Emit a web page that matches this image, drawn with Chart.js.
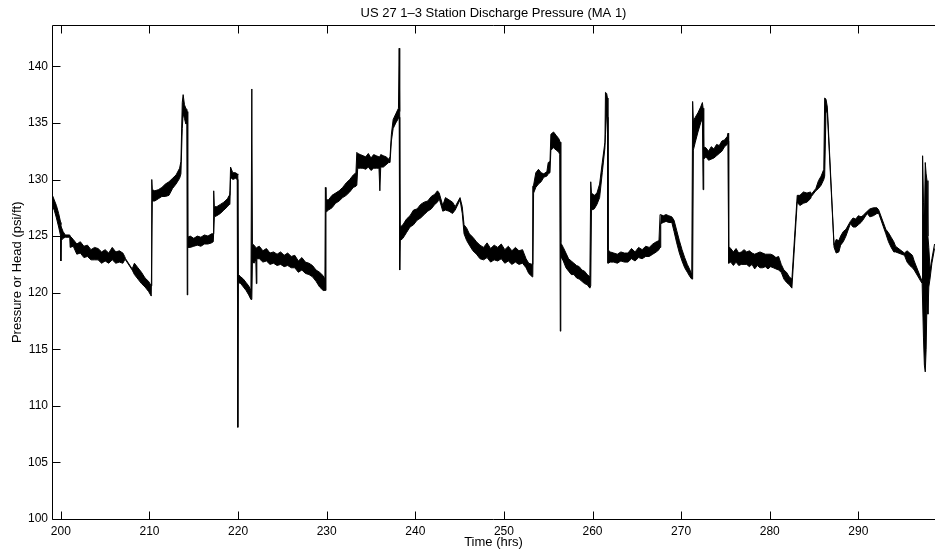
<!DOCTYPE html>
<html>
<head>
<meta charset="utf-8">
<script src="https://cdn.jsdelivr.net/npm/chart.js@4.4.0/dist/chart.umd.min.js"></script>
<style>
  html, body { margin: 0; padding: 0; background: #fff; }
</style>
</head>
<body>
<canvas id="myChart" width="935" height="550"></canvas>
<script>
const timeHrs = [
    199.0, 199.25, 199.5, 199.75, 199.98, 200.0, 200.05, 200.25, 200.5, 201.0,
    201.05, 201.4, 201.8, 202.2, 202.6, 203.0, 203.4, 203.8, 204.2, 204.6,
    205.0, 205.4, 205.8, 206.2, 206.6, 207.0, 207.2, 207.3, 208.05, 208.3,
    208.7, 209.1, 209.5, 209.9, 210.2, 210.26, 210.32, 210.6, 211.0, 211.4,
    211.8, 212.2, 212.6, 213.0, 213.4, 213.55, 213.7, 213.8, 213.95, 214.1,
    214.22, 214.26, 214.32, 214.6, 215.0, 215.4, 215.8, 216.2, 216.6, 217.0,
    217.2, 217.25, 217.32, 217.6, 218.0, 218.4, 218.8, 219.0, 219.08, 219.15,
    219.4, 219.7, 219.9, 219.97, 220.03, 220.3, 220.6, 220.9, 221.2, 221.45,
    221.55, 221.62, 221.8, 222.0, 222.06, 222.12, 222.4, 222.8, 223.2, 223.6,
    224.0, 224.4, 224.8, 225.2, 225.6, 226.0, 226.4, 226.8, 227.2, 227.6,
    228.0, 228.4, 228.8, 229.2, 229.6, 229.8, 229.85, 229.92, 230.2, 230.6,
    231.0, 231.4, 231.8, 232.2, 232.6, 233.0, 233.3, 233.4, 233.5, 233.8,
    234.1, 234.4, 234.7, 235.0, 235.3, 235.6, 235.9, 236.0, 236.1, 236.4,
    236.7, 237.0, 237.15, 237.3, 237.5, 237.8, 238.1, 238.18, 238.24, 238.3,
    238.6, 239.0, 239.4, 239.8, 240.2, 240.6, 241.0, 241.4, 241.8, 242.2,
    242.5, 242.7, 243.1, 243.4, 243.8, 244.2, 244.5, 245.05, 245.3, 245.5,
    245.8, 246.1, 246.5, 246.9, 247.3, 247.7, 248.1, 248.5, 248.9, 249.3,
    249.7, 250.1, 250.5, 250.9, 251.3, 251.7, 252.1, 252.5, 252.8, 253.2,
    253.26, 253.35, 253.6, 253.9, 254.2, 254.5, 254.85, 255.0, 255.2, 255.3,
    255.6, 255.9, 256.2, 256.3, 256.36, 256.42, 256.7, 257.0, 257.3, 257.6,
    257.9, 258.2, 258.5, 258.8, 259.1, 259.4, 259.7, 259.8, 259.88, 260.2,
    260.5, 260.8, 261.1, 261.4, 261.46, 261.6, 261.68, 261.74, 262.0, 262.4,
    262.8, 263.2, 263.6, 264.0, 264.4, 264.8, 265.2, 265.6, 266.0, 266.4,
    266.8, 267.2, 267.5, 267.62, 267.7, 268.0, 268.3, 268.6, 268.95, 269.2,
    269.5, 269.8, 270.1, 270.4, 270.7, 271.0, 271.2, 271.3, 271.38, 271.6,
    271.9, 272.2, 272.4, 272.48, 272.55, 272.8, 273.1, 273.4, 273.7, 274.0,
    274.3, 274.6, 274.9, 275.2, 275.3, 275.36, 275.6, 275.9, 276.2, 276.5,
    276.8, 277.1, 277.4, 277.7, 278.0, 278.3, 278.6, 278.9, 279.2, 279.5,
    279.8, 280.1, 280.4, 280.7, 281.0, 281.3, 281.6, 281.9, 282.2, 282.5,
    283.1, 283.4, 283.8, 284.2, 284.6, 284.7, 285.2, 285.5, 285.8, 286.1,
    286.2, 286.35, 286.5, 287.26, 287.5, 287.8, 288.0, 288.3, 288.6, 289.1,
    289.4, 289.7, 290.0, 290.3, 290.5, 291.0, 291.3, 291.7, 292.1, 292.3,
    293.1, 293.4, 293.7, 294.0, 294.2, 295.2, 295.5, 295.8, 296.1, 296.3,
    297.2, 297.25, 297.35, 297.45, 297.55, 297.65, 297.75, 297.85, 297.95, 298.1,
    298.3, 298.6
];

const upperPsi = [
    128.7, 128.2, 127.7, 127.0, 126.2, 126.0, 125.8, 125.4, 125.1, 125.1,
    125.0, 124.7, 124.3, 124.5, 124.1, 124.2, 123.8, 124.0, 123.9, 123.6,
    123.8, 123.5, 124.0, 123.6, 123.7, 123.5, 123.2, 123.0, 122.1, 122.6,
    122.2, 121.8, 121.3, 121.0, 120.6, 130.0, 129.1, 129.0, 129.1, 129.3,
    129.6, 129.8, 130.1, 130.4, 131.0, 131.6, 136.8, 137.5, 136.6, 136.3,
    136.2, 136.0, 124.9, 125.0, 124.8, 125.0, 124.9, 125.1, 125.0, 125.2,
    125.2, 129.0, 127.6, 127.6, 127.8, 128.0, 128.3, 128.6, 129.0, 131.1,
    130.6, 130.6, 130.5, 130.4, 121.6, 121.4, 121.2, 120.9, 120.6, 120.2,
    138.0, 124.3, 124.2, 124.0, 123.9, 124.0, 124.1, 123.7, 123.9, 123.5,
    123.6, 123.4, 123.6, 123.3, 123.5, 123.2, 123.3, 122.8, 123.1, 122.7,
    122.6, 122.4, 122.0, 121.8, 121.5, 121.2, 129.3, 128.2, 128.2, 128.6,
    128.8, 129.0, 129.3, 129.7, 130.0, 130.4, 130.6, 132.4, 132.3, 132.2,
    132.1, 132.0, 132.3, 131.9, 132.2, 132.1, 132.0, 132.0, 132.2, 132.1,
    132.0, 131.8, 132.0, 134.0, 135.3, 135.8, 136.3, 141.6, 136.0, 125.8,
    126.0, 126.5, 126.8, 127.3, 127.4, 127.8, 128.0, 128.1, 128.5, 128.7,
    129.0, 128.8, 127.7, 128.4, 128.2, 128.0, 127.6, 128.4, 127.6, 126.0,
    125.7, 125.2, 124.9, 124.5, 124.2, 124.0, 124.4, 123.9, 124.2, 124.0,
    124.3, 123.8, 124.1, 123.7, 124.0, 123.7, 123.8, 123.0, 122.6, 122.5,
    129.4, 129.5, 130.6, 130.9, 130.6, 130.5, 130.7, 131.5, 131.6, 134.0,
    134.2, 133.9, 133.6, 133.4, 133.3, 124.4, 124.0, 123.5, 123.0, 122.8,
    122.6, 122.4, 122.3, 122.0, 121.9, 121.6, 121.4, 129.8, 128.8, 128.6,
    128.8, 129.6, 131.5, 133.3, 137.7, 137.6, 137.2, 123.8, 123.6, 123.5,
    123.4, 123.6, 123.5, 123.5, 123.9, 123.6, 124.0, 123.8, 124.1, 124.0,
    124.3, 124.5, 124.6, 126.9, 126.9, 126.8, 126.9, 126.8, 126.7, 126.4,
    125.5, 124.6, 123.8, 123.1, 122.5, 122.0, 121.6, 136.9, 135.2, 135.5,
    135.9, 136.4, 136.8, 136.3, 132.9, 132.8, 132.5, 132.9, 132.7, 133.1,
    133.0, 133.4, 133.5, 133.8, 134.1, 124.1, 123.9, 123.6, 123.9, 123.5,
    123.6, 123.8, 123.6, 123.7, 123.5, 123.4, 123.5, 123.6, 123.5, 123.4,
    123.4, 123.4, 123.3, 123.1, 123.2, 122.5, 122.0, 121.8, 121.4, 121.2,
    128.6, 128.6, 128.9, 128.8, 128.9, 128.7, 129.2, 129.9, 130.3, 130.9,
    137.2, 137.1, 136.4, 124.2, 124.7, 124.6, 125.0, 125.4, 125.6, 126.3,
    126.6, 126.5, 126.8, 126.7, 126.8, 127.2, 127.4, 127.5, 127.5, 127.3,
    125.6, 125.3, 124.9, 124.5, 124.1, 123.5, 123.7, 123.5, 123.3, 122.8,
    121.0, 132.1, 128.0, 126.0, 131.5, 130.5, 129.9, 125.0, 124.0, 122.0,
    123.0, 124.3
];

const lowerPsi = [
    127.7, 127.3, 126.6, 125.8, 125.0, 122.8, 124.6, 124.8, 124.9, 124.9,
    124.0, 124.1, 123.4, 123.5, 123.1, 123.2, 122.9, 122.9, 122.9, 122.6,
    122.8, 122.6, 122.9, 122.6, 122.7, 122.6, 122.9, 122.9, 122.0, 121.6,
    121.2, 120.8, 120.5, 120.1, 119.7, 119.7, 128.1, 128.1, 128.3, 128.5,
    128.5, 128.6, 129.2, 129.6, 130.1, 130.5, 134.5, 135.8, 135.4, 134.9,
    135.0, 119.8, 124.0, 124.0, 124.1, 124.2, 124.1, 124.3, 124.3, 124.4,
    124.5, 124.5, 126.7, 126.8, 127.0, 127.3, 127.6, 127.8, 127.9, 130.2,
    130.0, 130.1, 130.0, 108.1, 120.9, 120.8, 120.5, 120.2, 119.8, 119.4,
    119.4, 122.8, 122.6, 122.9, 120.8, 123.0, 123.0, 122.7, 122.8, 122.5,
    122.6, 122.4, 122.5, 122.3, 122.4, 122.2, 122.2, 121.8, 122.0, 121.7,
    121.6, 121.4, 121.0, 120.5, 120.2, 120.2, 120.2, 127.1, 127.3, 127.5,
    127.9, 128.1, 128.4, 128.6, 128.9, 129.3, 129.4, 129.5, 131.0, 131.0,
    131.0, 130.9, 131.1, 130.8, 131.0, 131.0, 131.0, 129.0, 131.1, 131.1,
    131.3, 131.5, 131.5, 133.4, 134.5, 135.0, 135.4, 135.5, 122.0, 124.6,
    124.8, 125.3, 125.8, 126.0, 126.4, 126.6, 126.9, 127.2, 127.4, 127.8,
    128.0, 128.3, 127.2, 127.3, 127.2, 127.0, 127.3, 128.2, 127.0, 125.2,
    124.6, 124.2, 123.7, 123.4, 123.0, 122.9, 123.1, 122.7, 122.9, 122.8,
    123.0, 122.6, 122.8, 122.5, 122.7, 122.5, 122.6, 122.2, 121.7, 121.4,
    121.5, 128.8, 129.3, 129.6, 129.8, 130.2, 130.3, 130.5, 130.6, 132.6,
    132.8, 132.6, 132.4, 132.2, 116.6, 123.2, 122.8, 122.2, 121.9, 121.6,
    121.6, 121.3, 121.2, 121.0, 120.8, 120.7, 120.4, 120.6, 127.3, 127.4,
    127.8, 128.4, 130.6, 132.8, 134.0, 136.0, 135.5, 122.6, 122.7, 122.7,
    122.6, 122.8, 122.7, 122.7, 123.0, 122.8, 123.1, 123.0, 123.2, 123.2,
    123.4, 123.6, 123.8, 124.0, 126.1, 126.2, 126.3, 126.2, 126.2, 125.4,
    124.4, 123.5, 122.8, 122.2, 121.8, 121.4, 121.2, 121.2, 132.6, 133.3,
    134.2, 135.0, 135.4, 129.1, 131.8, 132.0, 131.7, 131.8, 131.9, 132.1,
    132.3, 132.5, 132.9, 133.1, 133.4, 122.6, 122.7, 122.4, 122.7, 122.4,
    122.5, 122.5, 122.5, 122.3, 122.5, 122.1, 122.4, 122.2, 122.2, 122.3,
    122.1, 122.3, 122.2, 122.1, 122.0, 121.8, 121.2, 120.9, 120.7, 120.4,
    128.0, 127.7, 127.9, 128.0, 128.3, 128.5, 129.0, 129.2, 129.5, 130.0,
    130.3, 136.0, 135.9, 124.0, 123.5, 123.6, 124.2, 124.5, 125.0, 126.1,
    125.8, 125.8, 126.0, 126.2, 126.4, 127.0, 126.7, 126.8, 127.0, 127.0,
    125.2, 124.5, 124.0, 123.6, 123.6, 123.3, 122.7, 122.4, 122.2, 122.0,
    120.8, 120.8, 116.0, 113.6, 113.0, 115.0, 119.5, 118.1, 120.5, 121.3,
    122.6, 123.9
];

const xRange = [199, 298.65];
const yRange = [100, 143.6];
const xStep = 10;
const yStep = 5;

const fontFamily = '"Liberation Sans", Arial, Helvetica, sans-serif';

// Box round the plot area with inward tick marks (MATLAB look)
const frameTicks = {
    id: 'frameTicks',
    afterDraw(chart) {
        const ctx = chart.ctx;
        const area = chart.chartArea;
        const xs = chart.scales.x;
        const ys = chart.scales.y;
        const left = Math.floor(area.left) + 0.5;
        const top = Math.floor(area.top) + 0.5;
        const bottom = Math.floor(area.bottom) + 0.5;
        const tick = 8;

        ctx.save();
        ctx.strokeStyle = '#000';
        ctx.lineWidth = 1;
        ctx.beginPath();
        ctx.moveTo(area.right, top);
        ctx.lineTo(left, top);
        ctx.lineTo(left, bottom);
        ctx.lineTo(area.right, bottom);

        xs.ticks.forEach(t => {
            const px = Math.round(xs.getPixelForValue(t.value)) + 0.5;
            ctx.moveTo(px, bottom);
            ctx.lineTo(px, bottom - tick);
            ctx.moveTo(px, top);
            ctx.lineTo(px, top + tick);
        });
        ys.ticks.forEach(t => {
            const py = Math.round(ys.getPixelForValue(t.value)) + 0.5;
            ctx.moveTo(left, py);
            ctx.lineTo(left + tick, py);
        });
        ctx.stroke();
        ctx.restore();
    }
};

const ctx = document.getElementById('myChart').getContext('2d');

const upperPoints = timeHrs.map((t, i) => ({ x: t, y: upperPsi[i] }));
const lowerPoints = timeHrs.map((t, i) => ({ x: t, y: lowerPsi[i] }));

new Chart(ctx, {
    type: 'line',
    data: {
        datasets: [{
            label: 'upper',
            data: upperPoints,
            borderColor: '#000',
            borderWidth: 1,
            pointRadius: 0,
            tension: 0,
            fill: false
        }, {
            label: 'lower',
            data: lowerPoints,
            borderColor: '#000',
            borderWidth: 1,
            pointRadius: 0,
            tension: 0,
            backgroundColor: '#000',
            fill: '-1'
        }]
    },
    options: {
        responsive: false,
        animation: false,
        layout: { padding: 0 },
        plugins: {
            legend: { display: false },
            tooltip: { enabled: false },
            title: {
                display: true,
                text: 'US 27 1–3 Station Discharge Pressure (MA 1)',
                color: '#000',
                fullSize: false,
                font: { family: fontFamily, size: 13, weight: 'normal' },
                padding: { top: 6, bottom: 4 }
            }
        },
        scales: {
            x: {
                type: 'linear',
                min: xRange[0],
                max: xRange[1],
                grid: { display: false, drawTicks: false },
                border: { display: false },
                ticks: {
                    stepSize: xStep,
                    includeBounds: false,
                    autoSkip: false,
                    maxRotation: 0,
                    color: '#000',
                    padding: 5,
                    font: { family: fontFamily, size: 12 }
                },
                title: {
                    display: true,
                    text: 'Time (hrs)',
                    color: '#000',
                    font: { family: fontFamily, size: 13 },
                    padding: { top: 0, bottom: 0 }
                },
                afterFit: function(scale) {
                    scale.height = 31;
                }
            },
            y: {
                type: 'linear',
                min: yRange[0],
                max: yRange[1],
                grid: { display: false, drawTicks: false },
                border: { display: false },
                ticks: {
                    stepSize: yStep,
                    includeBounds: false,
                    color: '#000',
                    padding: 4,
                    font: { family: fontFamily, size: 12 }
                },
                title: {
                    display: true,
                    text: 'Pressure or Head (psi/ft)',
                    color: '#000',
                    font: { family: fontFamily, size: 13 },
                    padding: { top: 10, bottom: 0 }
                },
                afterFit: function(scale) {
                    scale.width = 52;
                }
            }
        }
    },
    plugins: [frameTicks]
});
</script>
</body>
</html>
